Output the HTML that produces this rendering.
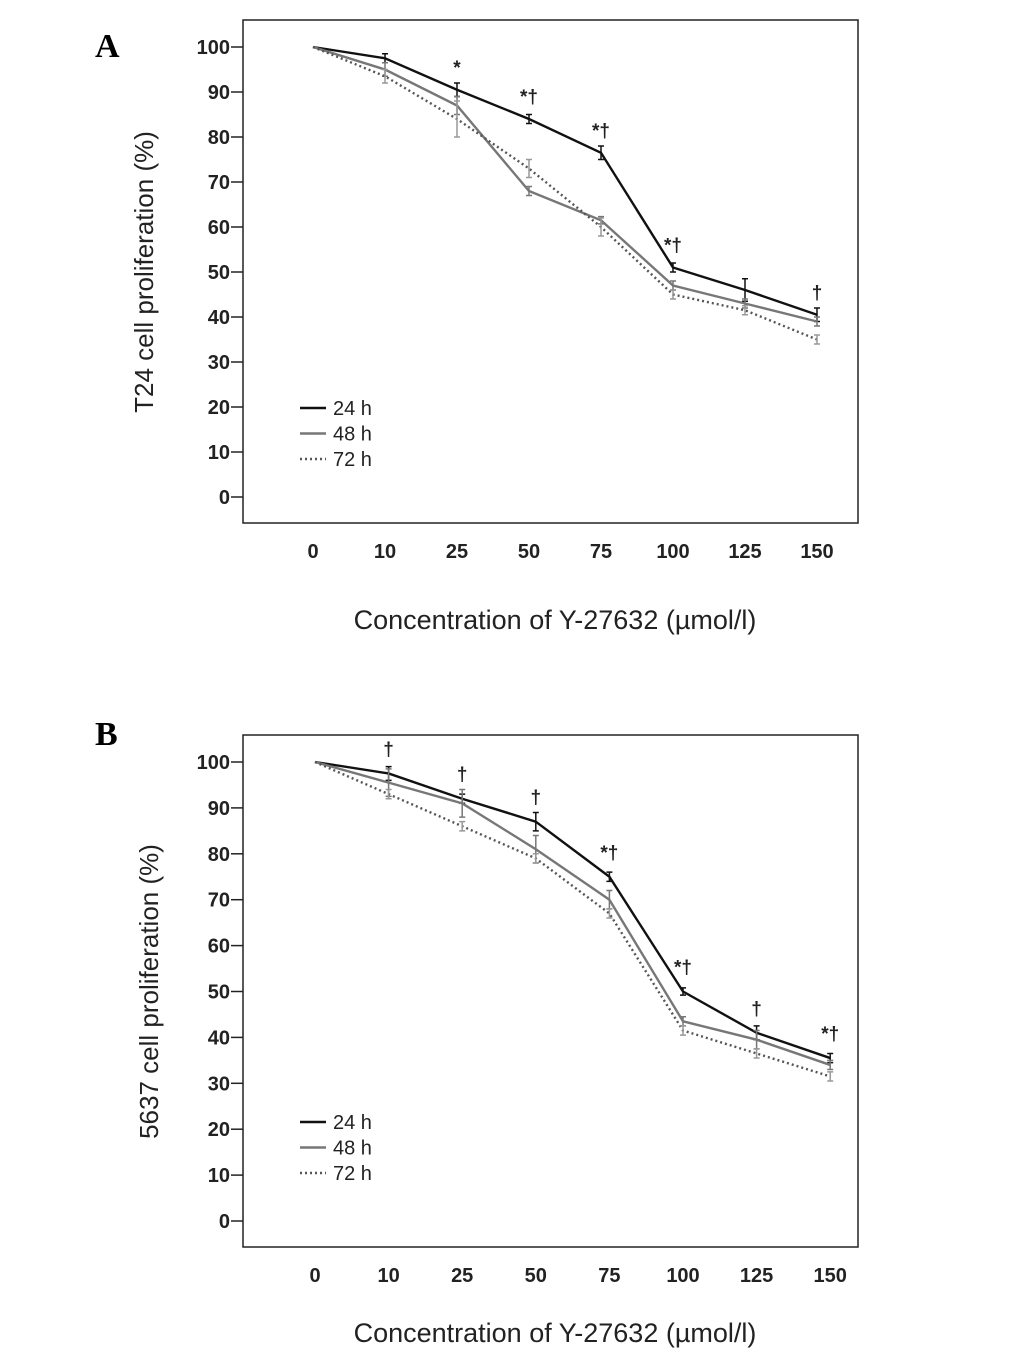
<!DOCTYPE html>
<html><head><meta charset="utf-8"><style>
body{margin:0;background:#fff;}
svg text{font-family:"Liberation Sans",Arial,sans-serif;}
</style></head><body>
<svg id="fig" width="1033" height="1356" xmlns="http://www.w3.org/2000/svg">
<text x="95" y="57" font-weight="bold" font-size="34" style="font-family:'Liberation Serif',serif">A</text>
<text x="95" y="745" font-weight="bold" font-size="34" style="font-family:'Liberation Serif',serif">B</text>
</svg>
<script>
const categories=["0","10","25","50","75","100","125","150"];
const yTicks=[0,10,20,30,40,50,60,70,80,90,100];
const seriesNames=["24 h","48 h","72 h"];
const a24=[100,97.5,90.5,84,76.5,51,46,40.5];
const a48=[100,95,87,68,61.5,47,43,39];
const a72=[100,93.5,84,73,60,45,41.5,35];
const aErr24=[0,1,1.5,1,1.5,1,2.5,1.5];
const aErr48=[0,1.5,2,1,0.8,1,1,1];
const aErr72=[0,1.5,4,2,2,1,1,1];
const b24=[100,97.5,92,87,75,50,41,35.5];
const b48=[100,95.5,91,81,70,43.5,39.5,34];
const b72=[100,93,86,79,67,41.5,36.5,31.5];
const bErr24=[0,1.5,1,2,1,0.8,1.5,1];
const bErr48=[0,3,3,3,2,1,2,1];
const bErr72=[0,1,1,1,1,1,1,1];
const aMarks=["","","*","*†","*†","*†","","†"];
const bMarks=["","†","†","†","*†","*†","†","*†"];
const NS="http://www.w3.org/2000/svg";
const svg=document.getElementById('fig');
function el(t,a,p){const e=document.createElementNS(NS,t);for(const k in a)e.setAttribute(k,a[k]);(p||svg).appendChild(e);return e;}
function panel(cfg){
 const g=el('g',{});
 
 
 const fr=el('rect',{x:243,y:cfg.top,width:615,height:cfg.bottom-cfg.top,fill:'none',stroke:'#222','stroke-width':1.5},g);
 
 
 const y=v=>cfg.y0+(cfg.y100-cfg.y0)*v/100;
 const x=i=>cfg.x0+cfg.dx*i;
 yTicks.forEach(v=>{
  const l=el('line',{x1:231,x2:243,y1:y(v),y2:y(v),stroke:'#222','stroke-width':1.5},g);
  
  
  const t=el('text',{x:230,y:y(v)+7,'text-anchor':'end','font-size':20,'font-weight':'bold',fill:'#222'},g);
  t.textContent=v;
  
  
 });
 categories.forEach((c,i)=>{
  const t=el('text',{x:x(i),y:cfg.bottom+35,'text-anchor':'middle','font-size':20,'font-weight':'bold',fill:'#222'},g);
  t.textContent=c;
  
  
 });
 const yt=el('text',{x:0,y:0,'text-anchor':'middle','font-size':26,fill:'#222',transform:`translate(${cfg.ytx},${(y(0)+y(100))/2}) rotate(-90)`},g);
 yt.textContent=cfg.ytitle;
 
 
 const xt=el('text',{x:555,y:cfg.xty,'text-anchor':'middle','font-size':27,fill:'#222'},g);
 xt.textContent='Concentration of Y-27632 (µmol/l)';
 
 
 const styles=[{c:'#111',w:2.4,d:''},{c:'#777',w:2.4,d:''},{c:'#555',w:2.4,d:'2,3'}];
 cfg.series.forEach((s,k)=>{
  const st=styles[k];
  const p=el('polyline',{points:s.map((v,i)=>x(i)+','+y(v)).join(' '),fill:'none',stroke:st.c,'stroke-width':st.w,'stroke-dasharray':st.d},g);
  
  
  s.forEach((v,i)=>{
   const e=cfg.errs[k][i]; if(!e)return;
   const ec=k==2?'#999':st.c;
   const b=el('path',{d:`M${x(i)},${y(v+e)}V${y(v-e)}M${x(i)-3},${y(v+e)}h6M${x(i)-3},${y(v-e)}h6`,stroke:ec,'stroke-width':1.5,fill:'none'},g);
   
   
  });
 });
 cfg.marks.forEach((m,i)=>{
  if(!m)return;
  const top=Math.max(...cfg.series.map(s=>s[i]));
  const t=el('text',{x:x(i),y:y(top)-cfg.markOff,'text-anchor':'middle','font-size':19,'font-weight':'bold',fill:'#222'},g);
  t.textContent=m;
  
  
 });
 seriesNames.forEach((n,k)=>{
  const st=styles[k];const ly=cfg.legY+k*25.5;
  const l=el('line',{x1:300,x2:326,y1:ly,y2:ly,stroke:st.c,'stroke-width':2.4,'stroke-dasharray':st.d},g);
  
  
  const t=el('text',{x:333,y:ly+7,'font-size':20,fill:'#222'},g);
  t.textContent=n;
  
  
 });
}
panel({name:'panel-a-chart',top:20,bottom:523,y0:497,y100:47,x0:313,dx:72,ytx:153,xty:629,ytitle:'T24 cell proliferation (%)',series:[a24,a48,a72],errs:[aErr24,aErr48,aErr72],marks:aMarks,markOff:16,legY:408});
panel({name:'panel-b-chart',top:735,bottom:1247,y0:1221,y100:762,x0:315,dx:73.6,ytx:158,xty:1342,ytitle:'5637 cell proliferation (%)',series:[b24,b48,b72],errs:[bErr24,bErr48,bErr72],marks:bMarks,markOff:18,legY:1122});
</script>
</body></html>
